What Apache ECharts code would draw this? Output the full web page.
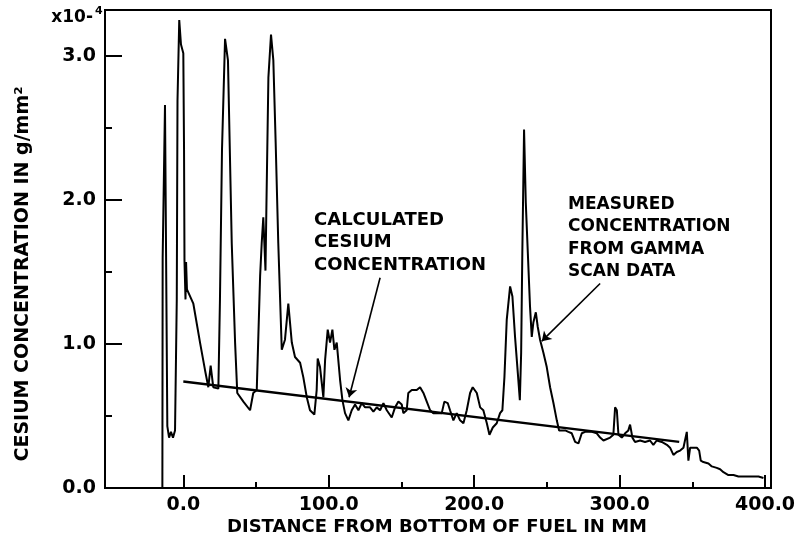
<!DOCTYPE html>
<html>
<head>
<meta charset="utf-8">
<script src="https://cdn.jsdelivr.net/npm/echarts@6/dist/echarts.min.js"></script>
<style>
  html, body { margin: 0; padding: 0; background: #fff; }
  #chart { width: 802px; height: 540px; }
</style>
</head>
<body>
<div id="chart"></div>
<script>
// Gamma-scan cesium profile along the fuel rod (x: mm from bottom of fuel, y: 1e-4 g/mm^2)
const distanceMm = [
  -14.4, -14.2, -12.6, -11.0, -9.8, -8.5, -7.1, -5.7, -4.5, -4.0,
  -2.8, -1.6, 0.0, 0.5, 0.8, 1.5, 1.9, 2.5, 6.9, 11.5,
  14.9, 17.2, 18.8, 20.6, 24.1, 25.2, 26.6, 28.7, 30.7, 33.3,
  35.6, 37.1, 41.3, 45.9, 48.1, 50.5, 51.6, 52.8, 53.9, 55.0,
  55.8, 56.5, 57.2, 58.5, 60.3, 61.9, 63.5, 65.3, 67.7, 69.9,
  72.2, 74.6, 76.8, 80.3, 82.5, 84.9, 87.1, 90.1, 91.7, 92.4,
  94.0, 96.3, 97.5, 99.3, 100.9, 102.5, 103.9, 105.5, 107.8, 109.4,
  111.2, 113.5, 115.8, 118.1, 120.4, 122.7, 125.0, 128.4, 130.7, 133.0,
  135.3, 137.6, 139.9, 143.3, 145.6, 147.9, 150.2, 151.3, 153.6, 154.7,
  157.1, 160.5, 162.8, 165.1, 167.4, 169.7, 171.9, 175.4, 177.7, 179.5,
  181.8, 183.4, 185.7, 188.0, 190.3, 192.6, 194.9, 197.2, 199.0, 201.8,
  204.1, 206.3, 208.7, 210.5, 212.8, 215.5, 217.8, 219.4, 220.8, 222.4,
  224.7, 226.3, 228.1, 230.0, 231.4, 232.3, 233.1, 234.3, 235.5, 236.9,
  238.4, 239.6, 240.7, 242.4, 243.7, 245.3, 247.6, 249.9, 252.2, 254.5,
  256.8, 258.4, 262.6, 264.8, 267.1, 269.4, 271.7, 274.0, 276.3, 280.9,
  284.3, 286.6, 288.9, 293.5, 295.7, 296.9, 298.1, 299.2, 301.5, 303.8,
  306.0, 307.2, 308.8, 310.6, 314.1, 317.5, 320.9, 323.2, 325.5, 329.0,
  332.5, 334.7, 337.0, 339.3, 341.6, 343.9, 346.2, 347.3, 348.5, 350.8,
  353.1, 354.7, 355.8, 357.6, 361.1, 363.4, 366.8, 369.1, 371.4, 374.8,
  378.3, 381.7, 385.1, 388.6, 392.0, 395.5, 398.9
];
const measuredConc = [
  0.00, 1.60, 2.66, 0.43, 0.35, 0.39, 0.35, 0.40, 1.31, 2.69,
  3.25, 3.08, 3.02, 2.35, 1.58, 1.31, 1.57, 1.38, 1.28, 1.01,
  0.82, 0.70, 0.85, 0.70, 0.69, 1.31, 2.35, 3.12, 2.97, 1.70,
  1.01, 0.66, 0.60, 0.54, 0.66, 0.68, 0.68, 1.47, 1.70, 1.88,
  1.88, 1.51, 2.00, 2.85, 3.15, 2.97, 2.40, 1.70, 0.96, 1.03,
  1.28, 1.01, 0.91, 0.87, 0.77, 0.63, 0.54, 0.51, 0.68, 0.90,
  0.84, 0.63, 0.89, 1.10, 1.01, 1.10, 0.96, 1.01, 0.75, 0.61,
  0.52, 0.47, 0.54, 0.58, 0.54, 0.59, 0.56, 0.56, 0.53, 0.56,
  0.54, 0.59, 0.54, 0.49, 0.56, 0.60, 0.58, 0.52, 0.54, 0.66,
  0.68, 0.68, 0.70, 0.66, 0.60, 0.54, 0.52, 0.52, 0.52, 0.60,
  0.59, 0.54, 0.47, 0.52, 0.47, 0.45, 0.54, 0.66, 0.70, 0.66,
  0.56, 0.54, 0.45, 0.37, 0.42, 0.45, 0.52, 0.54, 0.77, 1.17,
  1.40, 1.33, 1.05, 0.80, 0.61, 0.94, 1.63, 2.49, 1.98, 1.63,
  1.26, 1.05, 1.15, 1.22, 1.12, 1.03, 0.94, 0.84, 0.70, 0.59,
  0.47, 0.40, 0.40, 0.39, 0.38, 0.32, 0.31, 0.38, 0.39, 0.39,
  0.38, 0.35, 0.33, 0.35, 0.37, 0.56, 0.54, 0.37, 0.35, 0.38,
  0.40, 0.44, 0.35, 0.32, 0.33, 0.32, 0.33, 0.30, 0.33, 0.32,
  0.30, 0.28, 0.23, 0.25, 0.26, 0.28, 0.39, 0.19, 0.28, 0.28,
  0.28, 0.26, 0.19, 0.18, 0.17, 0.15, 0.14, 0.13, 0.11, 0.09,
  0.09, 0.08, 0.08, 0.08, 0.08, 0.08, 0.07
];

// Calculated cesium concentration (straight-line model)
const calcDistanceMm = [0, 341];
const calcConc = [0.74, 0.32];

// Axis ticks
const xMajorTicks = [0, 100, 200, 300, 400];
const xMinorTicks = [50, 150, 250, 350];
const yMajorTicks = [0, 1, 2, 3];
const yMinorTicks = [0.5, 1.5, 2.5];

// Annotation arrows: [from, to] in data coordinates
const calcArrow = [[135.3, 1.46], [114.0, 0.63]];
const measArrow = [[286.6, 1.42], [246.5, 1.02]];

const X_MIN = -53.85, X_MAX = 404.1, Y_MIN = 0, Y_MAX = 3.32;

const pairs = (xs, ys) => xs.slice(0, Math.min(xs.length, ys.length)).map((x, i) => [x, ys[i]]);

const FONT = '"DejaVu Sans", "Liberation Sans", Arial, sans-serif';
const tickLabel = { color: '#000', fontFamily: FONT, fontWeight: 'bold', fontSize: 19 };

function arrowMarkLine(arrow) {
  return {
    silent: true,
    animation: false,
    symbol: ['none', 'arrow'],
    symbolSize: 9,
    lineStyle: { color: '#000', width: 1.6, type: 'solid' },
    label: { show: false },
    emphasis: { disabled: true },
    data: [[{ coord: arrow[0] }, { coord: arrow[1] }]]
  };
}

const chart = echarts.init(document.getElementById('chart'), null, { renderer: 'canvas' });

const option = {
  animation: false,
  backgroundColor: '#fff',
  grid: {
    left: 105, right: 31, top: 10, bottom: 52,
    show: true, borderColor: '#000', borderWidth: 2,
    containLabel: false, outerBoundsMode: 'none'
  },
  xAxis: [
    {
      type: 'value', min: X_MIN, max: X_MAX, position: 'bottom',
      axisLine: { show: true, onZero: false, lineStyle: { color: '#000', width: 2 } },
      axisTick: { show: true, inside: true, length: 13, customValues: xMajorTicks, lineStyle: { color: '#000', width: 2 } },
      axisLabel: { show: true, customValues: xMajorTicks, margin: 8, formatter: v => v.toFixed(1), ...tickLabel },
      splitLine: { show: false }
    },
    {
      type: 'value', min: X_MIN, max: X_MAX, position: 'bottom',
      axisLine: { show: false, onZero: false },
      axisTick: { show: true, inside: true, length: 6, customValues: xMinorTicks, lineStyle: { color: '#000', width: 2 } },
      axisLabel: { show: false },
      splitLine: { show: false }
    }
  ],
  yAxis: [
    {
      type: 'value', min: Y_MIN, max: Y_MAX, position: 'left',
      axisLine: { show: true, onZero: false, lineStyle: { color: '#000', width: 2 } },
      axisTick: { show: true, inside: true, length: 17, customValues: yMajorTicks, lineStyle: { color: '#000', width: 2 } },
      axisLabel: { show: true, customValues: yMajorTicks, margin: 9, formatter: v => v.toFixed(1), ...tickLabel },
      splitLine: { show: false }
    },
    {
      type: 'value', min: Y_MIN, max: Y_MAX, position: 'left',
      axisLine: { show: false, onZero: false },
      axisTick: { show: true, inside: true, length: 7, customValues: yMinorTicks, lineStyle: { color: '#000', width: 2 } },
      axisLabel: { show: false },
      splitLine: { show: false }
    }
  ],
  series: [
    {
      name: 'Measured concentration',
      type: 'line',
      xAxisIndex: 0, yAxisIndex: 0,
      data: pairs(distanceMm, measuredConc),
      showSymbol: false, symbol: 'none',
      lineStyle: { color: '#000', width: 2 },
      emphasis: { disabled: true },
      silent: true,
      markLine: arrowMarkLine(measArrow)
    },
    {
      name: 'Calculated concentration',
      type: 'line',
      xAxisIndex: 0, yAxisIndex: 0,
      data: pairs(calcDistanceMm, calcConc),
      showSymbol: false, symbol: 'none',
      lineStyle: { color: '#000', width: 2.4 },
      emphasis: { disabled: true },
      silent: true,
      markLine: arrowMarkLine(calcArrow)
    }
  ],
  graphic: [
    {
      type: 'text', x: 23, y: 274, rotation: Math.PI / 2, silent: true,
      style: {
        text: 'CESIUM CONCENTRATION IN g/mm²',
        font: 'bold 19px ' + FONT, fill: '#000',
        align: 'center', verticalAlign: 'middle',
        textAlign: 'center', textVerticalAlign: 'middle'
      }
    },
    {
      type: 'text', x: 437, y: 527, silent: true,
      style: {
        text: 'DISTANCE FROM BOTTOM OF FUEL IN MM',
        font: 'bold 18px ' + FONT, fill: '#000',
        align: 'center', verticalAlign: 'middle',
        textAlign: 'center', textVerticalAlign: 'middle'
      }
    },
    {
      type: 'text', x: 93, y: 18, silent: true,
      style: {
        text: 'x10-', font: 'bold 17px ' + FONT, fill: '#000',
        align: 'right', verticalAlign: 'middle',
        textAlign: 'right', textVerticalAlign: 'middle'
      }
    },
    {
      type: 'text', x: 95, y: 11, silent: true,
      style: {
        text: '4', font: 'bold 11px ' + FONT, fill: '#000',
        align: 'left', verticalAlign: 'middle',
        textAlign: 'left', textVerticalAlign: 'middle'
      }
    },
    {
      type: 'text', x: 314, y: 209, silent: true,
      style: {
        text: 'CALCULATED\nCESIUM\nCONCENTRATION',
        font: 'bold 18px ' + FONT, fill: '#000', lineHeight: 22.5,
        align: 'left', verticalAlign: 'top',
        textAlign: 'left', textVerticalAlign: 'top'
      }
    },
    {
      type: 'text', x: 568, y: 193, silent: true,
      style: {
        text: 'MEASURED\nCONCENTRATION\nFROM GAMMA\nSCAN DATA',
        font: 'bold 17px ' + FONT, fill: '#000', lineHeight: 22.5,
        align: 'left', verticalAlign: 'top',
        textAlign: 'left', textVerticalAlign: 'top'
      }
    }
  ]
};

chart.setOption(option);
</script>
</body>
</html>
